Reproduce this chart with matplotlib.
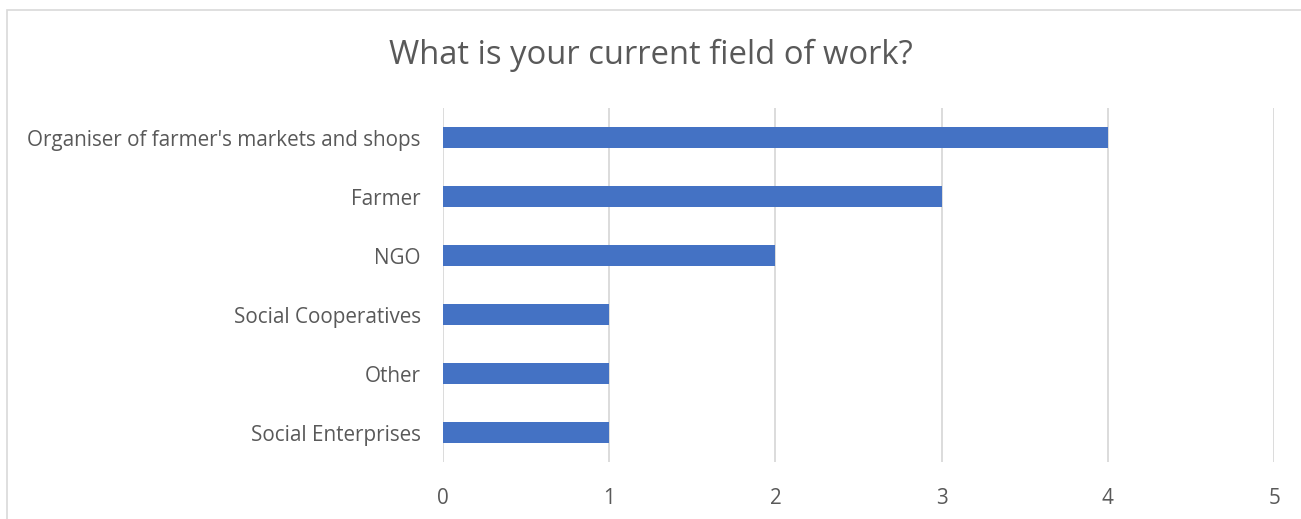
import matplotlib
matplotlib.use("Agg")
import matplotlib.pyplot as plt
from matplotlib.patches import Rectangle

categories = [
    "Social Enterprises",
    "Other",
    "Social Cooperatives",
    "NGO",
    "Farmer",
    "Organiser of farmer's markets and shops",
]
counts = [1, 1, 1, 2, 3, 4]
x_ticks = [0, 1, 2, 3, 4, 5]

TEXT = "#595959"
BAR = "#4472C4"
GRID = "#D9D9D9"

plt.rcParams["font.family"] = ["Open Sans", "DejaVu Sans"]

fig = plt.figure(figsize=(13.01, 5.19), dpi=100)
ax = fig.add_axes([0.3405, 0.1098, 0.9793 - 0.3405, 0.7919 - 0.1098])

# chart frame (runs off the right and bottom edges)
fig.patches.append(Rectangle((7 / 1301, -0.05), 1.2, 1 - 10 / 519 + 0.05,
                             transform=fig.transFigure, fill=False,
                             edgecolor="#D9D9D9", linewidth=1.2))

ax.barh(range(len(categories)), counts, height=0.34, color=BAR, zorder=3)
ax.set_yticks(range(len(categories)))
ax.set_yticklabels(categories, fontsize=14.9, color=TEXT)
ax.set_ylim(-0.5, len(categories) - 0.5)
ax.set_xlim(0, 5)
ax.set_xticks(x_ticks)
ax.set_xticklabels([str(t) for t in x_ticks], fontsize=14.9, color=TEXT)
ax.tick_params(axis="both", length=0)
ax.tick_params(axis="y", pad=16)
ax.tick_params(axis="x", pad=19)
ax.grid(axis="x", color=GRID, linewidth=1.3, zorder=0)
for s in ax.spines.values():
    s.set_visible(False)

fig.text(0.5, 1 - 55 / 519, "What is your current field of work?",
         ha="center", va="center", fontsize=23.6, color=TEXT)

fig.savefig("out.png", dpi=100)
